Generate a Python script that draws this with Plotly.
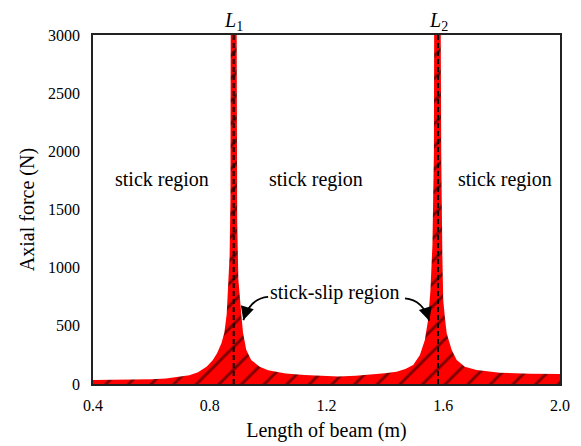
import plotly.graph_objects as go

# Outline of the stick-slip (red hatched) region
beam_length = [0.40, 0.50, 0.60, 0.65, 0.70, 0.73, 0.76, 0.79, 0.81, 0.825, 0.84, 0.85,
               0.858, 0.864, 0.868, 0.871, 0.872, 0.892, 0.894, 0.898, 0.903, 0.908,
               0.914, 0.925, 0.942, 0.971, 1.00, 1.022, 1.06, 1.125, 1.20, 1.24, 1.30,
               1.35, 1.40, 1.44, 1.47, 1.497, 1.52, 1.537, 1.548, 1.556, 1.563, 1.568,
               1.569, 1.591, 1.593, 1.597, 1.600, 1.606, 1.612, 1.629, 1.646, 1.674,
               1.714, 1.794, 1.85, 1.90, 2.00]
axial_force = [34, 36, 40, 48, 62, 75, 100, 150, 205, 265, 350, 440,
               600, 850, 1100, 1600, 3300, 3300, 1400, 900, 700, 600,
               440, 295, 206, 148, 118, 106, 90, 77, 67, 64, 70,
               80, 92, 106, 130, 163, 249, 378, 550, 800, 1200, 2000,
               3300, 3300, 2000, 1100, 720, 560, 435, 292, 206, 148,
               120, 97, 92, 89, 86]

critical_lengths = [0.882, 1.582]
critical_labels = ["<i>L</i><sub>1</sub>", "<i>L</i><sub>2</sub>"]

region_labels = ["stick region", "stick region", "stick region"]
region_x = [0.638, 1.164, 1.813]
region_y = [1760, 1760, 1760]

slip_label = "stick-slip region"
slip_xy = (1.229, 790)

x_ticks = [0.4, 0.8, 1.2, 1.6, 2.0]
x_tick_text = ["0.4", "0.8", "1.2", "1.6", "2.0"]
y_ticks = [0, 500, 1000, 1500, 2000, 2500, 3000]

FONT = "Liberation Serif, DejaVu Serif, serif"

fig = go.Figure()
fig.add_trace(go.Scatter(
    x=beam_length, y=axial_force, mode="lines", fill="tozeroy",
    line=dict(color="red", width=0),
    fillcolor="red",
    fillpattern=dict(shape="/", fgcolor="black", bgcolor="red", size=16, solidity=0.18),
    hoverinfo="skip", showlegend=False))

for xc, lab in zip(critical_lengths, critical_labels):
    fig.add_shape(type="line", x0=xc, x1=xc, y0=0, y1=3000, xref="x", yref="y",
                  line=dict(color="black", width=2, dash="5px,3px"))
    fig.add_annotation(x=xc, y=1, xref="x", yref="paper", yanchor="bottom", yshift=-1,
                       text=lab, showarrow=False, font=dict(family=FONT, size=20, color="black"))

for t, xx, yy in zip(region_labels, region_x, region_y):
    fig.add_annotation(x=xx, y=yy, text=t, showarrow=False,
                       font=dict(family=FONT, size=20, color="black"))

fig.add_annotation(x=slip_xy[0], y=slip_xy[1], text=slip_label, showarrow=False,
                   font=dict(family=FONT, size=20, color="black"))

# curved arrows: path + arrowhead
arrows = [
    dict(start=(1.000, 749), ctrl=(0.938, 737), tip=(0.915, 549), ax=4, ay=-13),
    dict(start=(1.469, 736), ctrl=(1.531, 721), tip=(1.552, 543), ax=-4, ay=-13),
]
for a in arrows:
    (sx, sy), (cx, cy), (tx, ty) = a["start"], a["ctrl"], a["tip"]
    fig.add_shape(type="path", xref="x", yref="y",
                  path=f"M {sx},{sy} Q {cx},{cy} {tx},{ty}",
                  line=dict(color="black", width=1.8))
    fig.add_annotation(x=tx, y=ty, ax=a["ax"], ay=a["ay"], axref="pixel", ayref="pixel",
                       text="", showarrow=True, arrowhead=2, arrowsize=1.5, arrowwidth=1.8,
                       arrowcolor="black")

fig.update_layout(
    width=581, height=446,
    margin=dict(l=93, r=21, t=35, b=62, autoexpand=False),
    paper_bgcolor="white", plot_bgcolor="white",
    font=dict(family=FONT, size=16, color="black"),
    xaxis=dict(range=[0.4, 2.0], tickvals=x_ticks, ticktext=x_tick_text,
               showgrid=False, zeroline=False, showline=True, linecolor="#222",
               linewidth=1.6, mirror=True, ticks="", ticklabelstandoff=6, automargin=False,
               title=dict(text="Length of beam (m)", font=dict(family=FONT, size=20), standoff=10)),
    yaxis=dict(range=[0, 3000], tickvals=y_ticks, showgrid=False, zeroline=False,
               showline=True, linecolor="#222", linewidth=1.6, mirror=True, ticks="",
               ticklabelstandoff=8, automargin=False,
               title=dict(text="Axial force (N)", font=dict(family=FONT, size=20), standoff=8)),
)

fig.write_html("out.html")
